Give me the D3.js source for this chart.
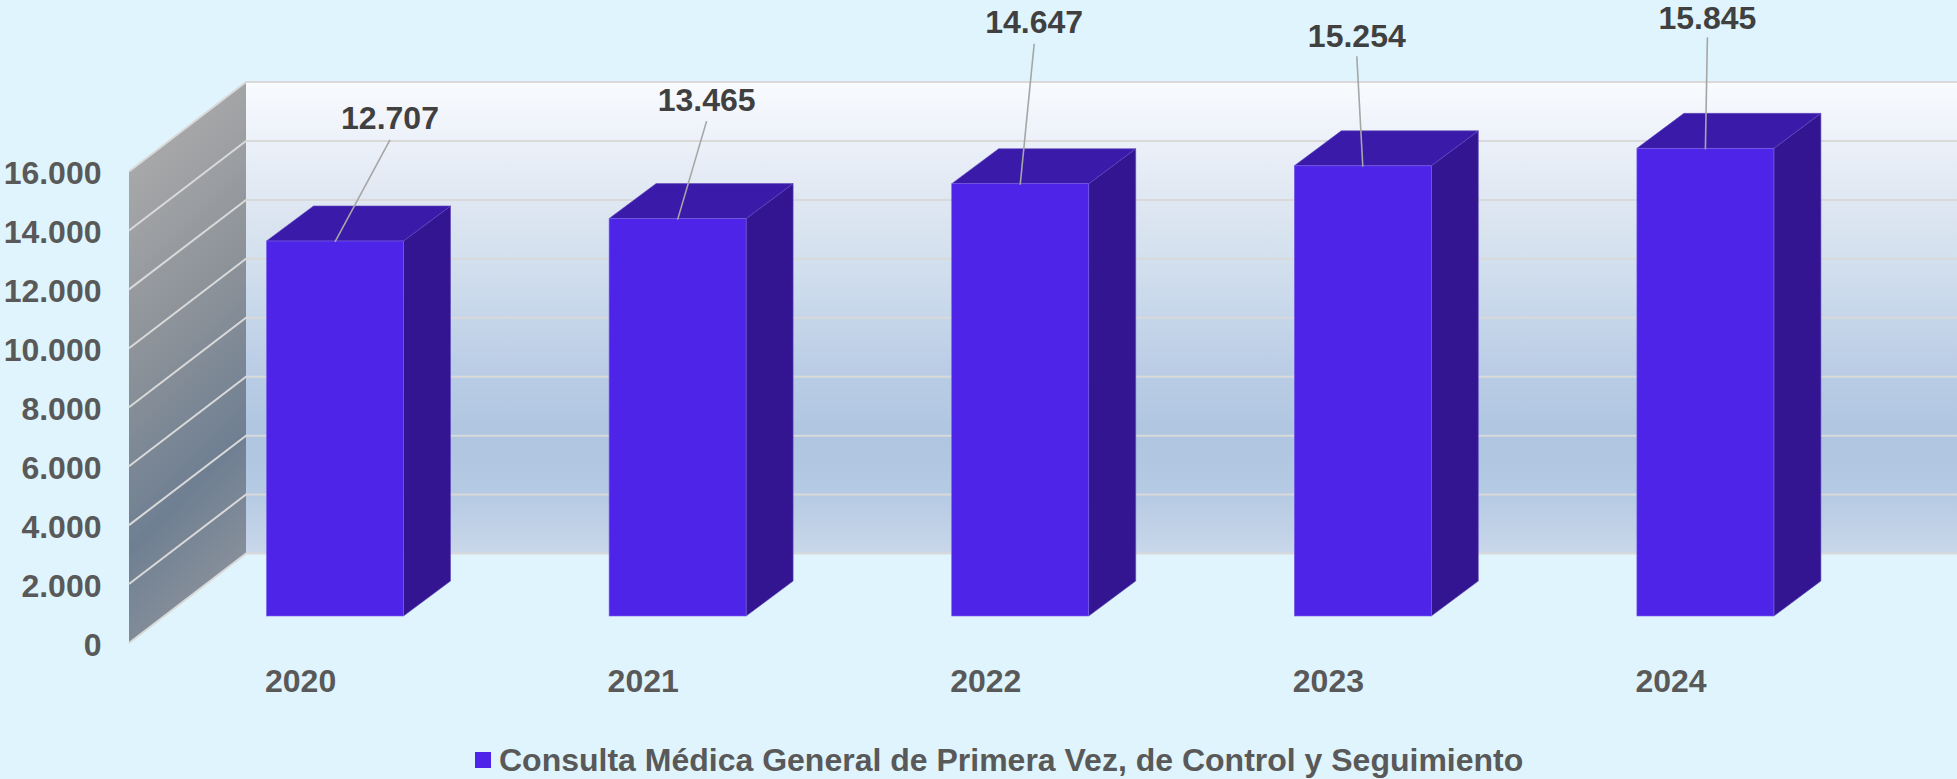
<!DOCTYPE html>
<html><head><meta charset="utf-8"><style>html,body{margin:0;padding:0;background:#dff4fc}svg{display:block}text{font-family:"Liberation Sans",Arial,sans-serif;font-weight:700}</style>
<script src="https://cdn.jsdelivr.net/npm/d3@7"></script></head><body><script>
const categories=["2020","2021","2022","2023","2024"];
const values=[12707,13465,14647,15254,15845];
const valueLabels=["12.707","13.465","14.647","15.254","15.845"];
const yTicks=[0,2000,4000,6000,8000,10000,12000,14000,16000];
const seriesName="Consulta Médica General de Primera Vez, de Control y Seguimiento";
// label placement relative to the bar's top-front centre
const labelDX=[55,29,14,-6,2];
const labelDY=[-112,-108,-151,-118.5,-119];
const lineDY=[-101,-97.5,-140,-109.5,-111];

const W=1957,H=779;
const svg=d3.select("body").append("svg").attr("width",W).attr("height",H);
svg.append("rect").attr("width",W).attr("height",H).attr("fill","#dff4fc");
const defs=svg.append("defs");
const gBack=defs.append("linearGradient").attr("id","back").attr("x1",0).attr("y1",0).attr("x2",0).attr("y2",1);
[[0,"#f9fbfe"],[.125,"#ecf1f9"],[.25,"#dfe7f2"],[.375,"#d3e0ee"],[.5,"#c6d6ea"],[.625,"#b9cce5"],[.75,"#afc5e0"],[.875,"#b5cae3"],[1,"#c9d7ea"]].forEach(d=>gBack.append("stop").attr("offset",d[0]).attr("stop-color",d[1]));
const gSide=defs.append("linearGradient").attr("id","side").attr("gradientUnits","userSpaceOnUse").attr("x1",149).attr("y1",149).attr("x2",399.5).attr("y2",399.5);
[[0,"#a8a8a9"],[.4,"#8c9299"],[.76,"#6f7f92"],[1,"#868f9a"]].forEach(d=>gSide.append("stop").attr("offset",d[0]).attr("stop-color",d[1]));

// plotting geometry
const floorBack=553.5,topBack=82,dxSide=-117,dySide=89.5,dxBar=47,dyBar=-35;
const yBack=d3.scaleLinear().domain([0,16000]).range([floorBack,topBack]);
const yBar=d3.scaleLinear().domain([0,16000]).range([616,143.8]);
const x=d3.scaleBand().domain(categories).range([163.7,1876.7]);
const wall=246;

svg.append("rect").attr("x",wall).attr("y",topBack).attr("width",W-wall).attr("height",floorBack-topBack).attr("fill","url(#back)");
svg.append("path").attr("d",`M${wall},${topBack}L${wall+dxSide},${topBack+dySide}L${wall+dxSide},${floorBack+dySide}L${wall},${floorBack}Z`).attr("fill","url(#side)");
const grid=svg.append("g").attr("fill","none").attr("stroke","#d9d9d9").attr("stroke-width",2);
grid.selectAll("path").data(yTicks).join("path").attr("d",d=>`M${wall+dxSide},${yBack(d)+dySide}L${wall},${yBack(d)}L${W},${yBack(d)}`);

const yl=svg.append("g").attr("fill","#595959").attr("font-size",32).attr("text-anchor","end");
yl.selectAll("text").data(yTicks).join("text").attr("x",101.5).attr("y",d=>yBack(d)+dySide+12.5).text(d=>d3.format(",")(d).replace(/,/g,"."));

const bw=137;
const barX=c=>x(c)+(x.bandwidth()-bw)/2;
const bars=svg.append("g").selectAll("g").data(categories).join("g");
const topY=(i)=>yBar(values[i]);
const floorFront=yBar(0);
bars.append("path").attr("fill","#331592").attr("stroke","#5f47bd").attr("stroke-width",.6)
 .attr("d",(c,i)=>{const X=barX(c)+bw,T=topY(i);return `M${X},${T}L${X+dxBar},${T+dyBar}L${X+dxBar},${floorFront+dyBar}L${X},${floorFront}Z`});
bars.append("path").attr("fill","#3a1ba9").attr("stroke","#5f47bd").attr("stroke-width",.6)
 .attr("d",(c,i)=>{const X=barX(c),T=topY(i);return `M${X},${T}L${X+dxBar},${T+dyBar}L${X+bw+dxBar},${T+dyBar}L${X+bw},${T}Z`});
bars.append("rect").attr("fill","#4d24e8").attr("stroke","#7a60ea").attr("stroke-width",.6)
 .attr("x",barX).attr("y",(c,i)=>topY(i)).attr("width",bw).attr("height",(c,i)=>floorFront-topY(i));

svg.append("g").attr("stroke","#a6a6a6").attr("stroke-width",1.6).selectAll("line").data(categories).join("line")
 .attr("x1",c=>barX(c)+bw/2).attr("y1",(c,i)=>topY(i)+1)
 .attr("x2",(c,i)=>barX(c)+bw/2+labelDX[i]).attr("y2",(c,i)=>topY(i)+lineDY[i]);
svg.append("g").attr("fill","#404040").attr("font-size",32).attr("text-anchor","middle").selectAll("text").data(categories).join("text")
 .attr("x",(c,i)=>barX(c)+bw/2+labelDX[i]).attr("y",(c,i)=>topY(i)+labelDY[i]).text((c,i)=>valueLabels[i]);

svg.append("g").attr("fill","#595959").attr("font-size",32).selectAll("text").data(categories).join("text")
 .attr("x",c=>barX(c)-1.5).attr("y",692).text(c=>c);

svg.append("rect").attr("x",475).attr("y",752).attr("width",16).attr("height",16).attr("fill","#4d24e8");
svg.append("text").attr("x",499).attr("y",771).attr("fill","#595959").attr("font-size",32).text(seriesName);
</script></body></html>
